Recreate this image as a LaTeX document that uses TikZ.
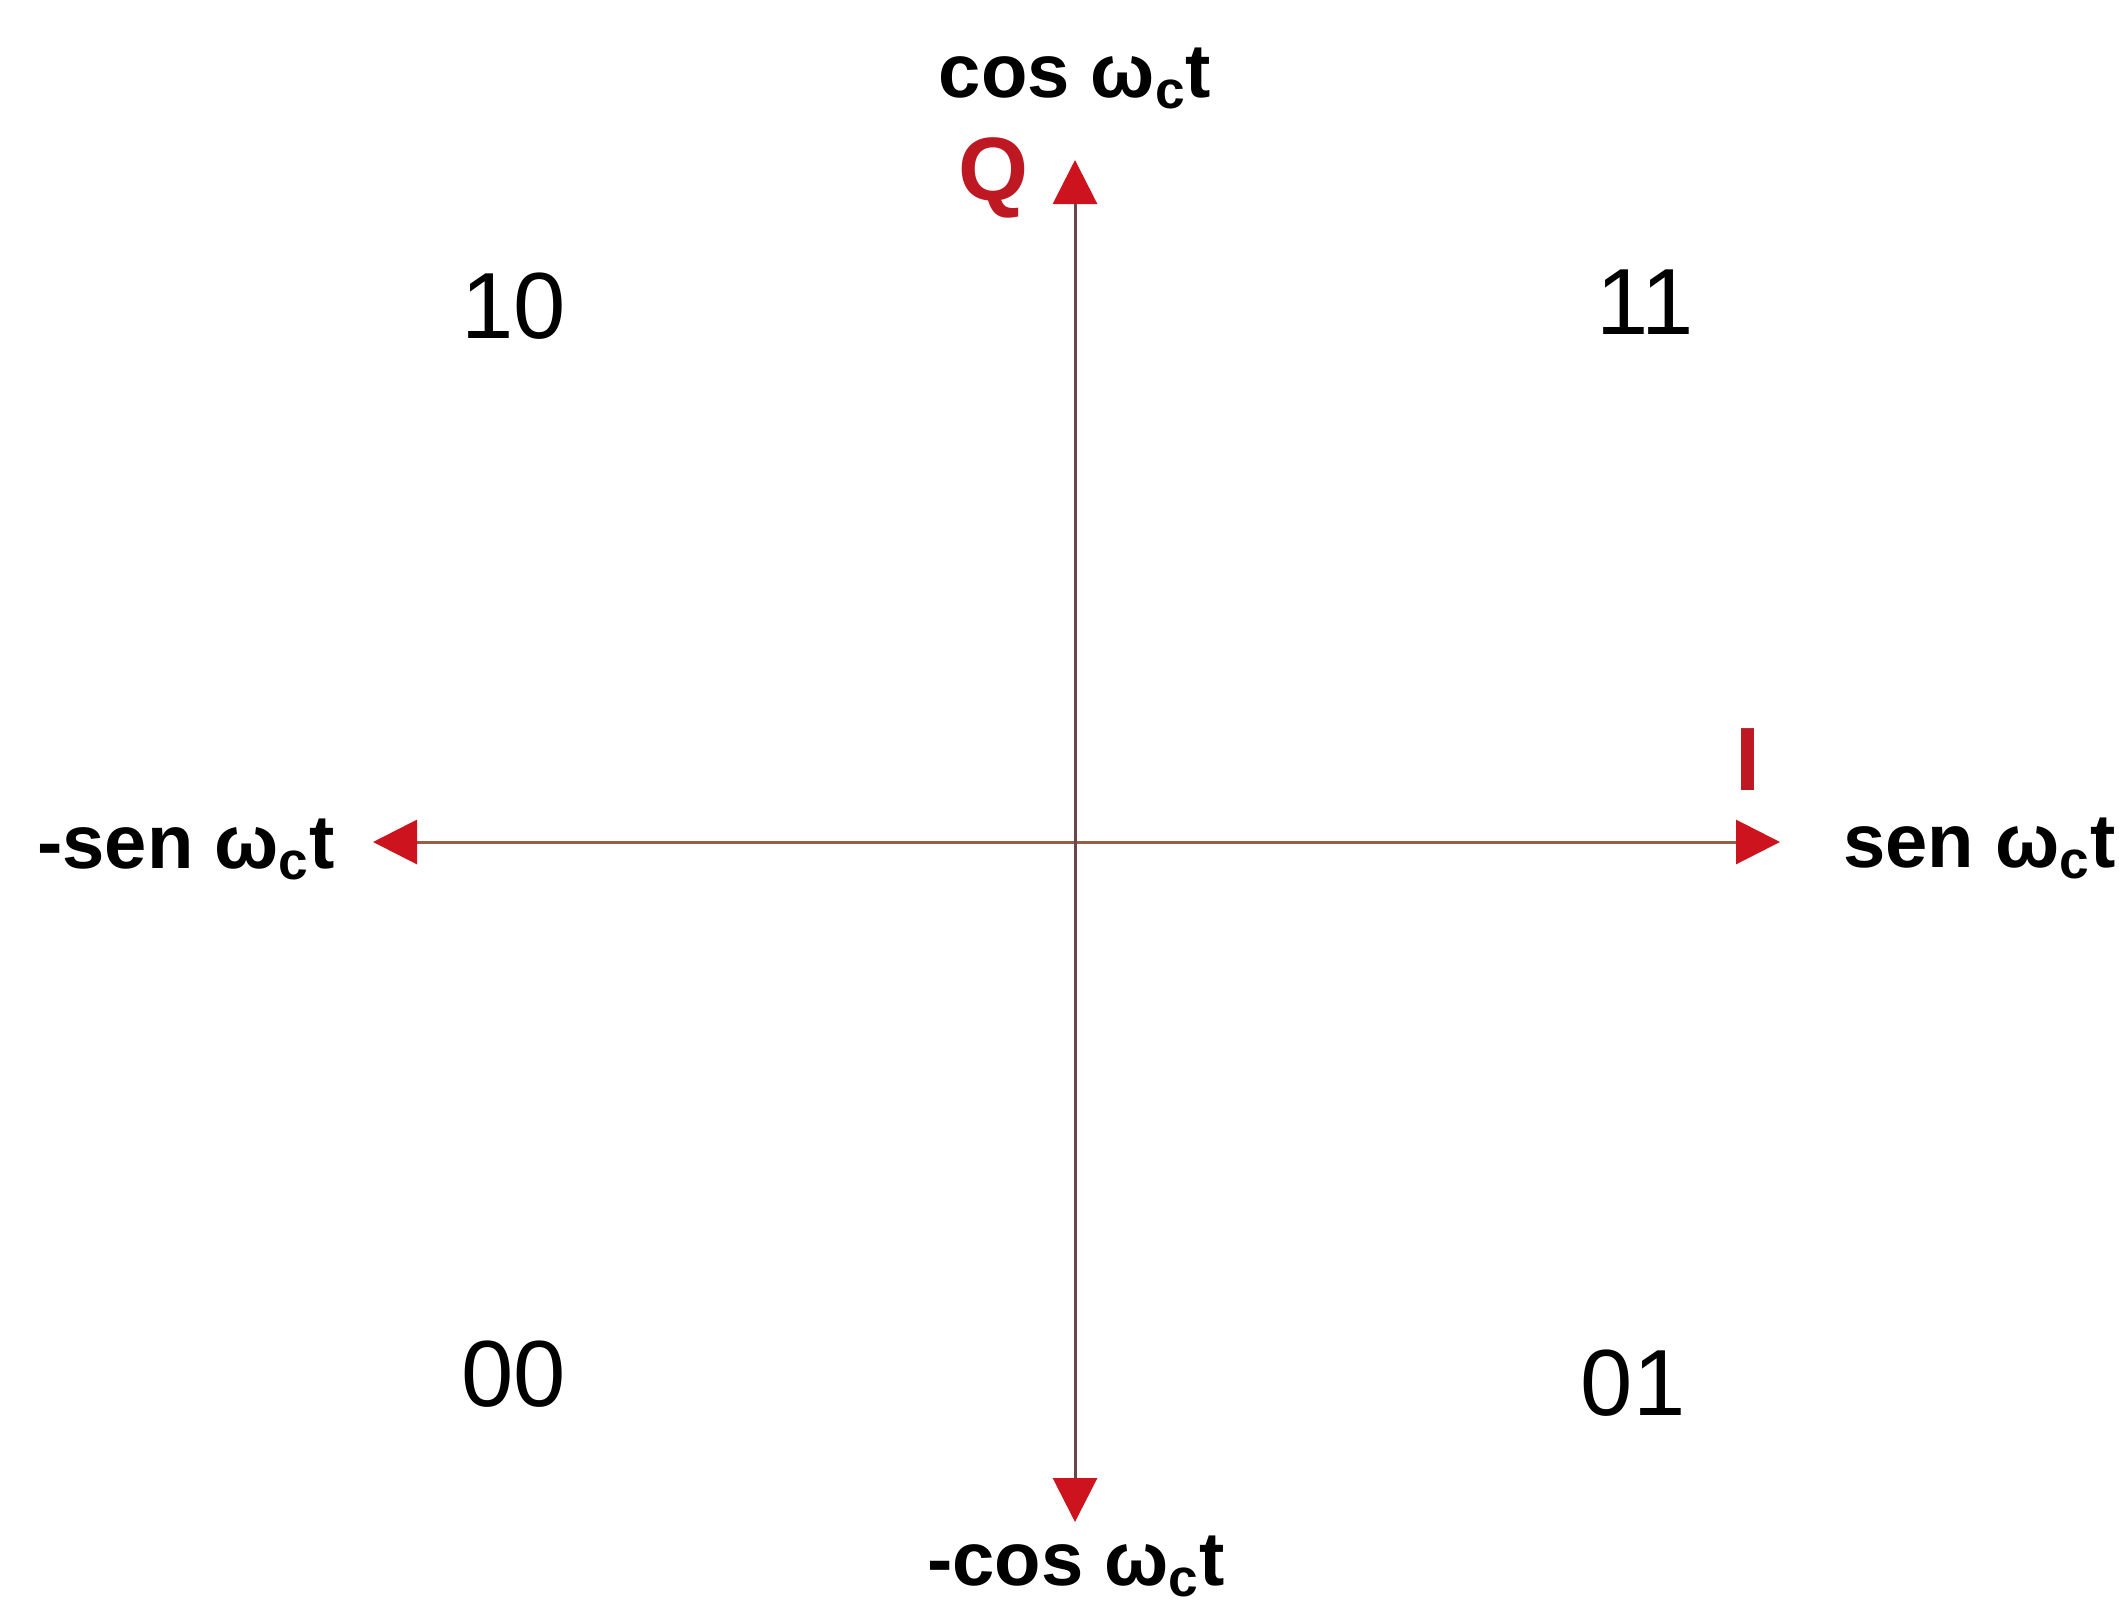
\documentclass[tikz,border=0pt]{standalone}
\usepackage{fontspec}
\setmainfont{Liberation Sans}
\usetikzlibrary{arrows.meta}
\definecolor{arrowred}{RGB}{205,20,30}
\definecolor{labelred}{RGB}{190,25,35}
\definecolor{haxis}{RGB}{150,95,70}
\definecolor{vaxis}{RGB}{105,70,75}
\tikzset{
  axis/.style={line width=1.5pt, {Triangle[length=22pt,width=22pt,color=arrowred]}-{Triangle[length=22pt,width=22pt,color=arrowred]}},
  triglabel/.style={inner sep=0pt, font=\fontsize{38}{40}\selectfont\bfseries},
  bits/.style={inner sep=0pt, font=\fontsize{47}{50}\selectfont},
  axname/.style={inner sep=0pt, text=labelred, font=\fontsize{45}{48}\selectfont\bfseries}
}
\begin{document}
\begin{tikzpicture}[x=0.5pt,y=-0.5pt]
\useasboundingbox (0,0) rectangle (2119,1606);
\coordinate (O) at (1075,842);
\coordinate (top) at (1075,160);
\coordinate (bottom) at (1075,1522);
\coordinate (left) at (373,842);
\coordinate (right) at (1780,842);
\draw[axis, draw=haxis] (left) -- (right);
\draw[axis, draw=vaxis] (bottom) -- (top);
\node[triglabel, anchor=base] (cos) at (1075,97) {cos ω\textsubscript{c}t};
\node[triglabel, anchor=base] (mcos) at (1076,1585) {-cos ω\textsubscript{c}t};
\node[triglabel, anchor=base west] (msen) at (37,868) {-sen ω\textsubscript{c}t};
\node[triglabel, anchor=base west] (sen) at (1843,867) {sen ω\textsubscript{c}t};
\node[axname, anchor=base] (Q) at (993,200) {Q};
\node[axname, anchor=base] (I) at (1748,790) {I};
\node[bits] (b10) at (514,306) {10};
\node[bits] (b11) at (1645,302) {11};
\node[bits] (b00) at (514,1374) {00};
\node[bits] (b01) at (1633,1383) {01};
\end{tikzpicture}
\end{document}
